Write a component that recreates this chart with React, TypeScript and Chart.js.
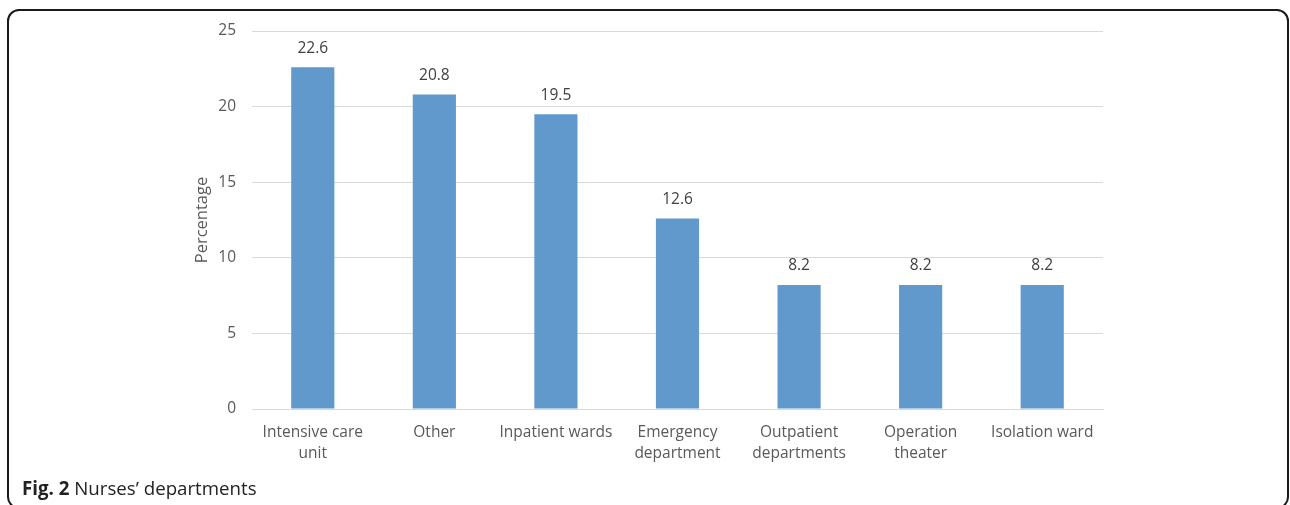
import React, { useEffect, useRef } from "react";
import { Chart, registerables } from "chart.js";

Chart.register(...registerables);

const categories: (string | string[])[] = [
  ["Intensive care", "unit"],
  "Other",
  "Inpatient wards",
  ["Emergency", "department"],
  ["Outpatient", "departments"],
  ["Operation", "theater"],
  "Isolation ward",
];
const percentages = [22.6, 20.8, 19.5, 12.6, 8.2, 8.2, 8.2];
const yTicks = [0, 5, 10, 15, 20, 25];

const FONT = "'Open Sans', 'Noto Sans', sans-serif";

const valueLabels = {
  id: "valueLabels",
  afterDatasetsDraw(chart: any) {
    const ctx = chart.ctx;
    const meta = chart.getDatasetMeta(0);
    const data = chart.data.datasets[0].data as number[];
    ctx.save();
    ctx.font = `15.5px ${FONT}`;
    ctx.fillStyle = "#404040";
    ctx.textAlign = "center";
    ctx.textBaseline = "middle";
    meta.data.forEach((bar: any, i: number) => {
      ctx.fillText(data[i].toFixed(1), bar.x, bar.y - 19);
    });
    ctx.restore();
  },
};

export default function App() {
  const ref = useRef<HTMLCanvasElement>(null);
  useEffect(() => {
    if (!ref.current) return;
    const chart = new Chart(ref.current, {
      type: "bar",
      data: {
        labels: categories,
        datasets: [
          {
            data: percentages,
            backgroundColor: "#6299CC",
            borderWidth: 0,
            categoryPercentage: 1,
            barPercentage: 0.355,
          },
        ],
      },
      options: {
        animation: false,
        responsive: false,
        layout: { padding: { left: 192, right: 187, top: 31, bottom: 11 } },
        plugins: { legend: { display: false }, tooltip: { enabled: false } },
        scales: {
          x: {
            grid: { display: false },
            border: { display: true, color: "#d9d9d9", width: 1 },
            ticks: {
              color: "#595959",
              font: { family: FONT, size: 15.5, lineHeight: 1.35 },
              padding: 5,
              maxRotation: 0,
              autoSkip: false,
            },
            afterFit: (s: any) => {
              s.height = 60;
            },
          },
          y: {
            min: 0,
            max: 25,
            afterBuildTicks: (s: any) => {
              s.ticks = yTicks.map((v) => ({ value: v }));
            },
            grid: { color: "#d9d9d9", lineWidth: 1, drawTicks: false },
            border: { display: false },
            ticks: {
              color: "#595959",
              font: { family: FONT, size: 15.5 },
              padding: 16,
            },
            title: {
              display: true,
              text: "Percentage",
              color: "#595959",
              font: { family: FONT, size: 16.5 },
              padding: 0,
            },
            afterFit: (s: any) => {
              s.width = 60;
            },
          },
        },
      },
      plugins: [valueLabels],
    });
    return () => chart.destroy();
  }, []);

  return (
    <div
      style={{
        position: "fixed",
        left: 0,
        top: 0,
        width: 1290,
        height: 505,
        background: "#fff",
        overflow: "hidden",
      }}
    >
      <div
        style={{
          position: "absolute",
          left: 7,
          top: 9,
          width: 1278,
          height: 496,
          border: "2px solid #1a1a1a",
          borderRadius: 12,
        }}
      />
      <canvas
        ref={ref}
        width={1290}
        height={480}
        style={{ position: "absolute", left: 0, top: 0, width: 1290, height: 480 }}
      />
      <div
        style={{
          position: "absolute",
          left: 22,
          top: 476,
          fontFamily: FONT,
          fontSize: 18.7,
          color: "#222",
          whiteSpace: "nowrap",
          lineHeight: "24px",
        }}
      >
        <b>Fig. 2</b> Nurses’ departments
      </div>
    </div>
  );
}
